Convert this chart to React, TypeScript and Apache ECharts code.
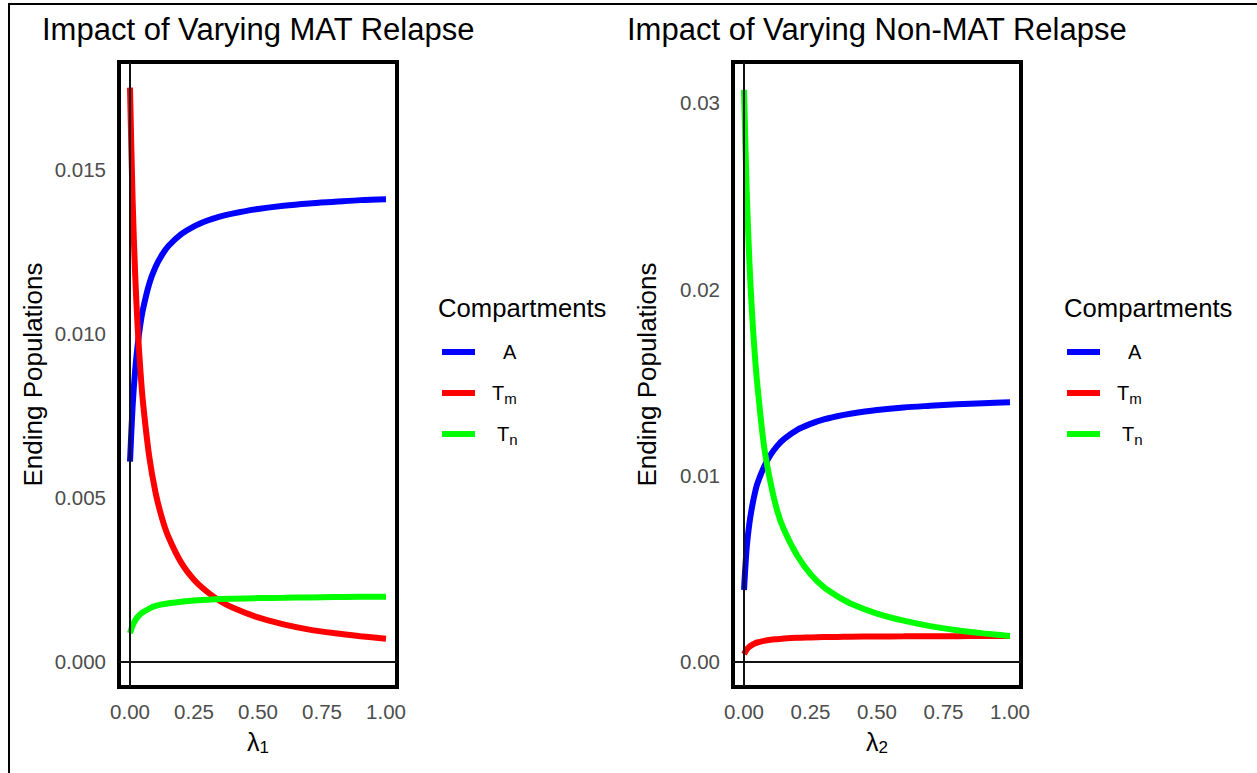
import React, { useEffect, useRef } from "react";
import * as echarts from "echarts";

// x grid (lambda values)
const LAMBDA = [0, 0.01, 0.02, 0.03, 0.04, 0.05, 0.075, 0.1, 0.125, 0.15, 0.2, 0.25, 0.3, 0.35, 0.4, 0.5, 0.6, 0.7, 0.8, 0.9, 1.0];

// Left panel: varying MAT relapse (lambda1)
const A1 = [0.0061, 0.00776, 0.00887, 0.00966, 0.01026, 0.01072, 0.01152, 0.01204, 0.0124, 0.01267, 0.01303, 0.01327, 0.01344, 0.01357, 0.01366, 0.0138, 0.0139, 0.01397, 0.01402, 0.01407, 0.0141];
const TM1 = [0.0175, 0.01412, 0.01183, 0.01018, 0.00894, 0.00796, 0.00626, 0.00515, 0.00438, 0.00381, 0.00302, 0.0025, 0.00214, 0.00186, 0.00165, 0.00135, 0.00114, 0.00098, 0.00087, 0.00078, 0.0007];
const TN1 = [0.00087, 0.0011, 0.00126, 0.00137, 0.00145, 0.00151, 0.00162, 0.0017, 0.00175, 0.00178, 0.00183, 0.00187, 0.00189, 0.00191, 0.00192, 0.00194, 0.00195, 0.00196, 0.00197, 0.00198, 0.00198];

// Right panel: varying Non-MAT relapse (lambda2)
const A2 = [0.00385, 0.0061, 0.0074, 0.0083, 0.009, 0.00955, 0.01045, 0.01111, 0.01159, 0.01195, 0.01245, 0.01277, 0.01301, 0.01318, 0.01331, 0.01351, 0.01365, 0.01374, 0.01382, 0.01388, 0.01393];
const TM2 = [0.0004, 0.00065, 0.0008, 0.0009, 0.00098, 0.00103, 0.00112, 0.00118, 0.00121, 0.00124, 0.00128, 0.0013, 0.00132, 0.00133, 0.00134, 0.00135, 0.00136, 0.00137, 0.00137, 0.00138, 0.00138];
const TN2 = [0.0307, 0.02532, 0.02155, 0.01875, 0.0166, 0.01489, 0.0116, 0.0096, 0.0081, 0.0071, 0.0057, 0.0047, 0.004, 0.00352, 0.00313, 0.00258, 0.0022, 0.00191, 0.00169, 0.00152, 0.00138];

const X_TICKS = [0, 0.25, 0.5, 0.75, 1];
const Y_TICKS_LEFT = [0, 0.005, 0.01, 0.015];
const Y_TICKS_RIGHT = [0, 0.01, 0.02, 0.03];

const NAMES = ["A", "Tm", "Tn"];
const COLORS = ["#0000ff", "#ff0000", "#00ff00"];
const TITLES = ["Impact of Varying MAT Relapse", "Impact of Varying Non-MAT Relapse"];

const FONT = "'Liberation Sans', Arial, Helvetica, sans-serif";

function pair(xs: number[], ys: number[]) {
  return xs.map((x, i) => [x, ys[i]]);
}

export default function App() {
  const ref = useRef<HTMLDivElement>(null);
  useEffect(() => {
    if (!ref.current) return;
    const chart = echarts.init(ref.current, undefined, { renderer: "svg" });

    const grids = [
      { left: 119, top: 62, width: 278, height: 625 },
      { left: 733, top: 62, width: 288, height: 625 },
    ];
    const xRanges = [
      [-0.043, 1.043],
      [-0.0414, 1.0414],
    ];
    const yRanges = [
      [-0.00077, 0.01828],
      [-0.00136, 0.0322],
    ];
    const yTicks = [Y_TICKS_LEFT, Y_TICKS_RIGHT];
    const yDigits = [3, 2];
    const sub = ["1", "2"];
    const panelData = [
      [A1, TM1, TN1],
      [A2, TM2, TN2],
    ];

    const legendRich = {
      a: { fontSize: 20, lineHeight: 26, color: "#000", fontFamily: FONT, padding: [0, 0, 0, 23] },
      tm: { fontSize: 20, lineHeight: 26, color: "#000", fontFamily: FONT, padding: [0, 0, 0, 12] },
      tn: { fontSize: 20, lineHeight: 26, color: "#000", fontFamily: FONT, padding: [0, 0, 0, 17] },
      s: { fontSize: 15, lineHeight: 11, color: "#000", fontFamily: FONT, verticalAlign: "bottom" },
    };
    const legendFormatter = (name: string) => {
      if (name === "A") return "{a|A}";
      if (name === "Tm") return "{tm|T}{s|m}";
      return "{tn|T}{s|n}";
    };

    const series: any[] = [];
    [0, 1].forEach((p) => {
      NAMES.forEach((n, k) => {
        series.push({
          type: "line",
          name: n,
          xAxisIndex: p,
          yAxisIndex: p,
          data: pair(LAMBDA, panelData[p][k]),
          showSymbol: false,
          symbol: "none",
          smooth: 0.3,
          lineStyle: { color: COLORS[k], width: 6, cap: "butt" },
          itemStyle: { color: COLORS[k] },
          z: 2 + k,
          markLine:
            k === 0
              ? {
                  silent: true,
                  symbol: "none",
                  label: { show: false },
                  lineStyle: { color: "#111", width: 2, type: "solid" },
                  data: [{ yAxis: 0 }, { xAxis: 0 }],
                  z: 10,
                }
              : undefined,
        });
      });
    });

    const legendBase = {
      top: 339,
      orient: "vertical",
      padding: 0,
      itemWidth: 33,
      itemHeight: 6,
      itemGap: 15,
      icon: "rect",
      data: NAMES,
      formatter: legendFormatter,
      textStyle: { fontSize: 20, lineHeight: 26, color: "#000", fontFamily: FONT, rich: legendRich },
      selectedMode: false,
    };

    const option: any = {
      animation: false,
      textStyle: { fontFamily: FONT },
      graphic: [
        {
          type: "rect",
          silent: true,
          shape: { x: 9, y: 4, width: 1400, height: 900 },
          style: { fill: "none", stroke: "#000", lineWidth: 2 },
        },
      ],
      title: [
        { text: TITLES[0], left: 42, top: 14, padding: 0, textStyle: { fontSize: 31, fontWeight: "normal", color: "#000", fontFamily: FONT } },
        { text: TITLES[1], left: 627, top: 14, padding: 0, textStyle: { fontSize: 31, fontWeight: "normal", color: "#000", fontFamily: FONT } },
        { text: "Compartments", left: 438, top: 295, padding: 0, textStyle: { fontSize: 25.7, fontWeight: "normal", color: "#000", fontFamily: FONT } },
        { text: "Compartments", left: 1064, top: 295, padding: 0, textStyle: { fontSize: 25.7, fontWeight: "normal", color: "#000", fontFamily: FONT } },
      ],
      legend: [
        { ...legendBase, left: 442 },
        { ...legendBase, left: 1067 },
      ],
      grid: grids.map((g) => ({ ...g, show: true, borderColor: "#000", borderWidth: 4, backgroundColor: "transparent", containLabel: false })),
      xAxis: [0, 1].map((p) => ({
        type: "value",
        gridIndex: p,
        min: xRanges[p][0],
        max: xRanges[p][1],
        axisLine: { show: false },
        axisTick: { show: false, customValues: X_TICKS },
        splitLine: { show: false },
        axisLabel: {
          customValues: X_TICKS,
          formatter: (v: number) => v.toFixed(2),
          fontSize: 20.5,
          color: "#4d4d4d",
          margin: 14,
          fontFamily: FONT,
        },
        name: `{l|λ}{s|${sub[p]}}`,
        nameLocation: "middle",
        nameGap: 41,
        nameTextStyle: {
          rich: {
            l: { fontSize: 25, lineHeight: 28, color: "#000", fontFamily: FONT },
            s: { fontSize: 17, lineHeight: 9, color: "#000", fontFamily: FONT, verticalAlign: "bottom" },
          },
        },
      })),
      yAxis: [0, 1].map((p) => ({
        type: "value",
        gridIndex: p,
        min: yRanges[p][0],
        max: yRanges[p][1],
        axisLine: { show: false },
        axisTick: { show: false, customValues: yTicks[p] },
        splitLine: { show: false },
        axisLabel: {
          customValues: yTicks[p],
          formatter: (v: number) => v.toFixed(yDigits[p]),
          fontSize: 20.5,
          color: "#4d4d4d",
          margin: 13,
          fontFamily: FONT,
        },
        name: "Ending Populations",
        nameLocation: "middle",
        nameGap: 73,
        nameTextStyle: { fontSize: 26, color: "#000", fontFamily: FONT },
      })),
      series,
    };

    chart.setOption(option);
    return () => chart.dispose();
  }, []);

  return (
    <div
      ref={ref}
      style={{ position: "fixed", left: 0, top: 0, width: 1257, height: 773, background: "#fff" }}
    />
  );
}
